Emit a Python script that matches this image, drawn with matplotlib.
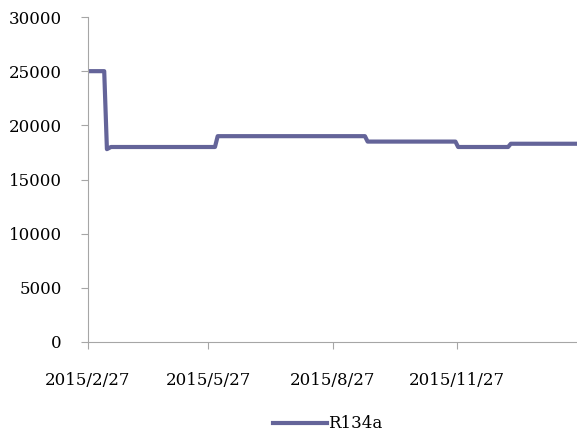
import matplotlib
matplotlib.use("Agg")
import matplotlib.pyplot as plt
import pandas as pd

# change points of the R134a price series
dates = ["2015-02-27", "2015-03-11", "2015-03-13", "2015-03-16",
         "2015-06-01", "2015-06-03", "2015-09-20", "2015-09-22",
         "2015-11-26", "2015-11-28", "2016-01-04", "2016-01-06",
         "2016-02-24"]
prices = [25000, 25000, 17800, 18000,
          18000, 19000, 19000, 18500,
          18500, 18000, 18000, 18300,
          18300]
tick_dates = ["2015-02-27", "2015-05-27", "2015-08-27", "2015-11-27"]
tick_labels = ["2015/2/27", "2015/5/27", "2015/8/27", "2015/11/27"]

plt.rcParams["font.family"] = "DejaVu Serif"
plt.rcParams["font.size"] = 12

x = pd.to_datetime(dates)
fig = plt.figure(figsize=(5.77, 4.41), dpi=100)
ax = fig.add_axes([88 / 577, 1 - 342 / 441, 1 - 88 / 577, (342 - 17) / 441])

line, = ax.plot(x, prices, color="#646499", lw=3, solid_joinstyle="round",
                label="R134a")

ax.set_xlim(x[0], x[-1])
ax.set_ylim(0, 30000)
ax.set_yticks(range(0, 30001, 5000))
ax.set_xticks(pd.to_datetime(tick_dates))
ax.set_xticklabels(tick_labels)

for s in ["top", "right"]:
    ax.spines[s].set_visible(False)
for s in ["left", "bottom"]:
    ax.spines[s].set_color("#a6a6a6")
ax.tick_params(axis="both", color="#a6a6a6", length=5, labelcolor="black")
ax.tick_params(axis="y", pad=14)
ax.tick_params(axis="x", pad=16.5)

fig.legend(handles=[line], loc="center", bbox_to_anchor=(328 / 577, 1 - 424 / 441),
           frameon=False, handlelength=3.2, handletextpad=0.1)

fig.savefig("out.png", dpi=100)
